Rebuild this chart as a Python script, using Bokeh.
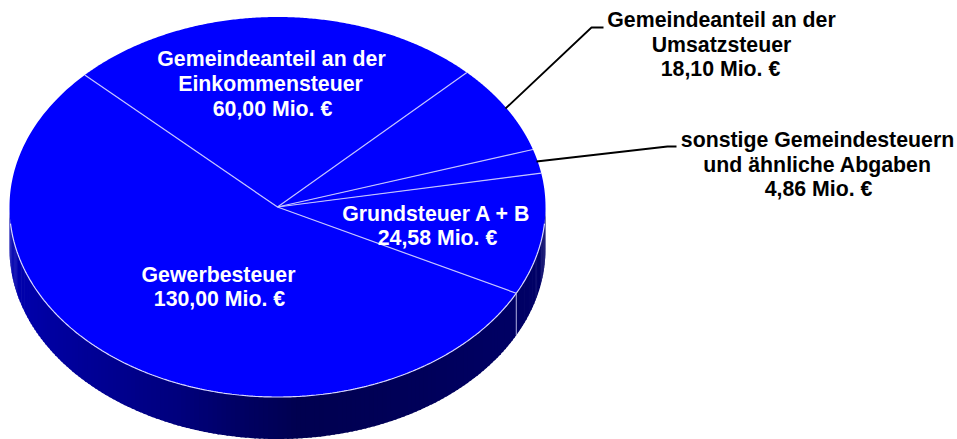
import numpy as np
from bokeh.plotting import figure
from bokeh.embed import file_html
from bokeh.resources import INLINE
from bokeh.core.properties import value

names = ["Gewerbesteuer", "Gemeindeanteil an der Einkommensteuer", "Gemeindeanteil an der Umsatzsteuer",
         "sonstige Gemeindesteuern und ähnliche Abgaben", "Grundsteuer A + B"]
values = [130.00, 60.00, 18.10, 4.86, 24.58]

label_lines = ["Gewerbesteuer", "130,00 Mio. €",
               "Gemeindeanteil an der", "Einkommensteuer", "60,00 Mio. €",
               "Grundsteuer A + B", "24,58 Mio. €",
               "Gemeindeanteil an der", "Umsatzsteuer", "18,10 Mio. €",
               "sonstige Gemeindesteuern", "und ähnliche Abgaben", "4,86 Mio. €"]
label_x = [218, 219, 271, 270, 272, 436, 437, 721, 721, 720, 817, 817, 818]
label_y = [274, 298, 58, 83, 108, 213, 237, 19, 44, 68, 139, 164, 188]
label_c = ["white"] * 7 + ["black"] * 6

CX, CY, RX, RY, DEPTH = 277, 206.5, 268, 190, 42
START = -27.0  # degrees on the disc, sweeping clockwise seen from above


def pt(deg, r=1.0, dy=0.0):
    a = np.radians(deg)
    return CX + RX * r * np.cos(a), CY - RY * r * np.sin(a) + dy


p = figure(width=957, height=439, x_range=(0, 957), y_range=(439, 0),
           output_backend="svg", toolbar_location=None, min_border=0,
           outline_line_color=None,
           background_fill_color="white", border_fill_color="white")
p.axis.visible = False
p.grid.visible = False

# rim of the disc, shaded in narrow strips: left is lighter, front/right dark
shade_stops_x = [8, 60, 120, 180, 240, 300, 400, 545]
shade_stops_b = [176, 158, 142, 125, 100, 80, 88, 104]
angles = np.arange(180, 361, 1.0)
xs, ys, cs = [], [], []
for a0, a1 in zip(angles[:-1], angles[1:]):
    x0, y0 = pt(a0)
    x1, y1 = pt(a1 + 0.4)
    xs.append([x0, x1, x1, x0])
    ys.append([y0, y1, y1 + DEPTH, y0 + DEPTH])
    b = int(np.interp((x0 + x1) / 2, shade_stops_x, shade_stops_b))
    cs.append(f"#0000{b:02x}")
p.patches(xs, ys, fill_color=cs, line_color=None)

# top surface wedges
edges = START - np.cumsum([0] + values) / sum(values) * 360
for a0, a1 in zip(edges[:-1], edges[1:]):
    t = np.linspace(a0, a1, 240)
    x, y = pt(t)
    p.patch(np.r_[CX, x], np.r_[CY, y], fill_color="#0000ff", line_color=None)

# separators
SEP = "#c4c4ff"
for a in edges[:-1]:
    x, y = pt(a)
    p.line([CX, x], [CY, y], line_color=SEP, line_width=1.2)

# front edge highlight and rim split
t = np.linspace(-175, -5, 340)
x, y = pt(t)
p.line(x, y, line_color="#d8d8ff", line_width=1.2)
x, y = pt(START)
p.line([x, x], [y, y + DEPTH], line_color="#b0b0e0", line_width=1)

# leaders
p.line([505, 591, 603], [108, 27, 27], line_color="black", line_width=1.8)
p.line([536, 667, 676], [161, 146, 146], line_color="black", line_width=1.8)

p.text(label_x, label_y, text=label_lines, text_color=label_c,
       text_font=value("Liberation Sans"), text_font_style="bold",
       text_font_size="21.3px", text_align="center", text_baseline="alphabetic")

open("out.html", "w").write(file_html(p, INLINE))
